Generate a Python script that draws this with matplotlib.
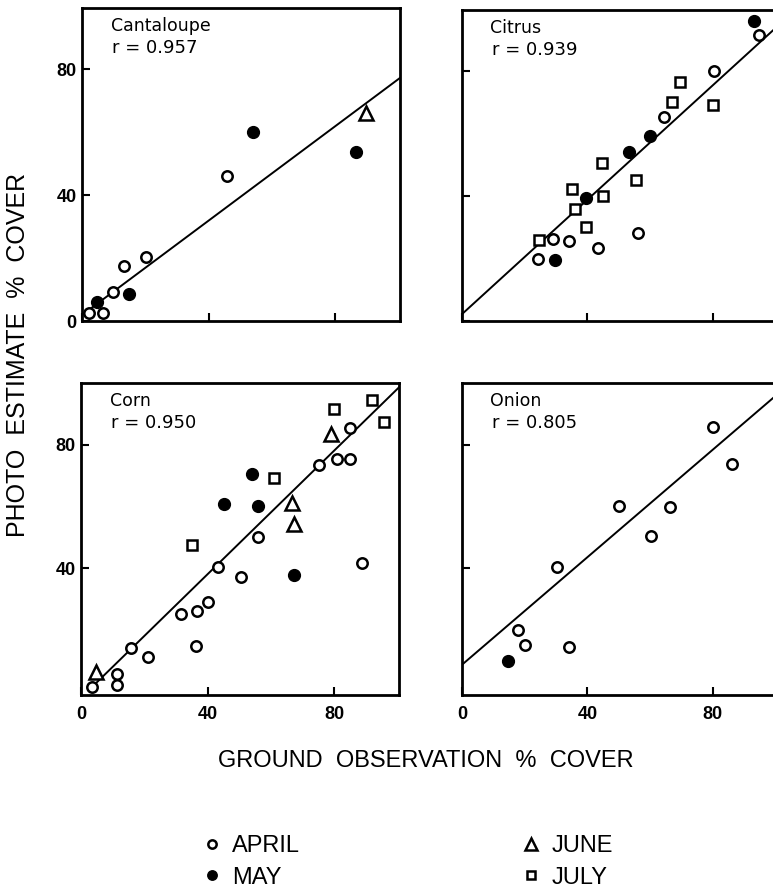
import matplotlib
matplotlib.use('Agg')
import matplotlib.pyplot as plt
from matplotlib.lines import Line2D

plt.rcParams['font.family'] = ['Liberation Sans', 'DejaVu Sans']

# values (ground obs %, photo estimate %)
cant_apr_x = [2.3, 6.5, 9.9, 13.3, 20.2, 45.7]
cant_apr_y = [2.4, 2.4, 9.3, 17.6, 20.2, 46.1]
cant_may_x = [4.6, 14.9, 53.9, 86.5]
cant_may_y = [6.1, 8.6, 60.2, 53.8]
cant_jun_x = [89.7]
cant_jun_y = [66.0]
cant_jul_x = []
cant_jul_y = []

citr_apr_x = [24.4, 29.1, 34.1, 43.4, 56.2, 64.6, 80.3, 94.6]
citr_apr_y = [19.8, 26.3, 25.6, 23.5, 28.3, 65.2, 80.0, 91.6]
citr_may_x = [29.7, 39.7, 53.2, 59.9, 93.3]
citr_may_y = [19.6, 39.2, 54.0, 59.1, 95.9]
citr_jun_x = []
citr_jun_y = []
citr_jul_x = [24.6, 35.0, 36.0, 39.5, 44.7, 45.0, 55.4, 67.0, 69.4, 80.0]
citr_jul_y = [26.0, 42.1, 35.7, 30.2, 50.6, 40.0, 45.0, 70.2, 76.6, 69.1]

corn_apr_x = [3.6, 11.5, 11.5, 15.7, 21.3, 31.5, 36.5, 36.8, 40.2, 43.4, 50.5,
              55.8, 75.3, 81.0, 85.0, 85.0, 88.8]
corn_apr_y = [1.6, 2.2, 5.7, 14.1, 11.2, 25.2, 14.8, 26.3, 29.2, 40.3, 37.3,
              50.1, 73.5, 75.4, 75.4, 85.4, 41.6]
corn_may_x = [45.2, 53.9, 55.8, 67.4]
corn_may_y = [60.9, 70.6, 60.2, 37.9]
corn_jun_x = [4.8, 66.8, 67.4, 79.0]
corn_jun_y = [6.5, 61.1, 54.4, 83.5]
corn_jul_x = [35.2, 61.0, 80.0, 92.1, 95.8]
corn_jul_y = [47.4, 69.2, 91.6, 94.4, 87.3]

onio_apr_x = [17.9, 20.0, 30.2, 34.2, 50.0, 60.2, 66.5, 80.0, 86.0]
onio_apr_y = [19.9, 15.1, 40.5, 14.6, 60.1, 50.5, 59.8, 85.9, 73.8]
onio_may_x = [14.7]
onio_may_y = [9.9]
onio_jun_x = []
onio_jun_y = []
onio_jul_x = []
onio_jul_y = []

crops = ['Cantaloupe', 'Citrus', 'Corn', 'Onion']
r_values = ['0.957', '0.939', '0.950', '0.805']
fit_slope = [0.75, 0.915, 1.0, 0.87]
fit_icpt = [1.9, 2.2, -1.9, 8.8]
fit_start = [0, 0, 4.5, 0]

months = ['APRIL', 'MAY', 'JUNE', 'JULY']

panel_data = [
    [(cant_apr_x, cant_apr_y), (cant_may_x, cant_may_y), (cant_jun_x, cant_jun_y), (cant_jul_x, cant_jul_y)],
    [(citr_apr_x, citr_apr_y), (citr_may_x, citr_may_y), (citr_jun_x, citr_jun_y), (citr_jul_x, citr_jul_y)],
    [(corn_apr_x, corn_apr_y), (corn_may_x, corn_may_y), (corn_jun_x, corn_jun_y), (corn_jul_x, corn_jul_y)],
    [(onio_apr_x, onio_apr_y), (onio_may_x, onio_may_y), (onio_jun_x, onio_jun_y), (onio_jul_x, onio_jul_y)],
]

# marker style per month
styles = [
    dict(marker='o', ms=7.5, mfc='white', mec='black', mew=1.8),
    dict(marker='o', ms=8.5, mfc='black', mec='black', mew=1.0),
    dict(marker='^', ms=10, mfc='white', mec='black', mew=1.8),
    dict(marker='s', ms=7.5, mfc='white', mec='black', mew=1.8),
]

W, H = 773, 889
fig = plt.figure(figsize=(W / 100, H / 100), dpi=100)

# axes boxes in pixels: left, top, right, bottom
boxes = [(82, 8, 400, 321), (462, 10, 777, 321),
         (81, 383, 399, 695), (462, 383, 777, 695)]

for i, (l, t, r, b) in enumerate(boxes):
    ax = fig.add_axes([l / W, 1 - b / H, (r - l) / W, (b - t) / H])
    for (xs, ys), st in zip(panel_data[i], styles):
        if xs:
            ax.plot(xs, ys, ls='none', zorder=3, **st)
    x0 = fit_start[i]
    ax.plot([x0, 105], [fit_icpt[i] + fit_slope[i] * x0, fit_icpt[i] + fit_slope[i] * 105],
            color='black', lw=1.4, zorder=2)
    ax.set_xlim(0, 100.5)
    ax.set_xticks([0, 40, 80])
    if i < 2:
        ax.set_ylim(0, 99.5)
        ax.set_yticks([0, 40, 80])
    else:
        ax.set_ylim(-1, 100)
        ax.set_yticks([40, 80])
    ax.tick_params(direction='in', length=6, width=1.5, labelsize=13)
    ax.tick_params(axis='y', pad=4)
    ax.tick_params(axis='x', pad=8)
    for lab in ax.get_xticklabels() + ax.get_yticklabels():
        lab.set_fontweight('bold')
    if i < 2:
        ax.set_xticklabels([])
    if i % 2 == 1:
        ax.set_yticklabels([])
    for sp in ax.spines.values():
        sp.set_linewidth(2)
    ax.text(0.09, 0.97, crops[i], transform=ax.transAxes, ha='left', va='top',
            fontsize=12.5, family='DejaVu Sans')
    ax.text(0.095, 0.9, 'r = ' + r_values[i], transform=ax.transAxes, ha='left', va='top',
            fontsize=13, family='DejaVu Sans')

fig.text(426 / W, 1 - 761 / H, 'GROUND  OBSERVATION  %  COVER', ha='center', va='center',
         fontsize=17)
fig.text(18 / W, 1 - 355 / H, 'PHOTO  ESTIMATE  %  COVER', ha='center', va='center',
         fontsize=18, rotation=90)

handles = []
for st in styles:
    s = dict(st)
    s['ms'] = s['ms'] * 0.8
    handles.append(Line2D([], [], ls='none', **s))
fig.legend(handles, months, ncol=2, loc='center left', bbox_to_anchor=(181 / W, 1 - 862 / H),
           frameon=False, fontsize=17, handlelength=0.8, handletextpad=0.45,
           columnspacing=9.4, labelspacing=0.4)

fig.savefig('out.png', dpi=100)
